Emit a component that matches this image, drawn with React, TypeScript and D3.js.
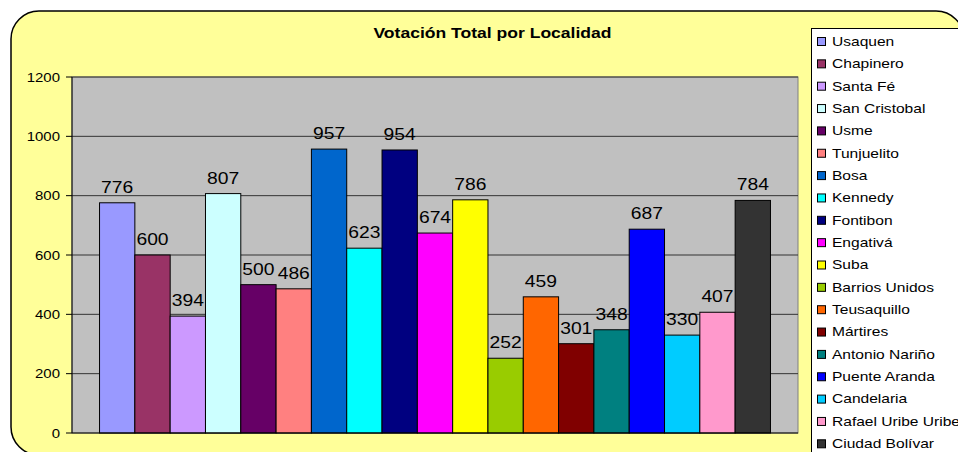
import React from "react";
import * as d3 from "d3";

const localidades = [
  "Usaquen", "Chapinero", "Santa Fé", "San Cristobal", "Usme", "Tunjuelito", "Bosa",
  "Kennedy", "Fontibon", "Engativá", "Suba", "Barrios Unidos", "Teusaquillo", "Mártires",
  "Antonio Nariño", "Puente Aranda", "Candelaria", "Rafael Uribe Uribe", "Ciudad Bolívar",
];
const votos = [776, 600, 394, 807, 500, 486, 957, 623, 954, 674, 786, 252, 459, 301, 348, 687, 330, 407, 784];
const colores = [
  "#9999FF", "#993366", "#CC99FF", "#CCFFFF", "#660066", "#FF8080", "#0066CC",
  "#00FFFF", "#000080", "#FF00FF", "#FFFF00", "#99CC00", "#FF6600", "#800000",
  "#008080", "#0000FF", "#00CCFF", "#FF99CC", "#333333",
];
const yTicks = [0, 200, 400, 600, 800, 1000, 1200];
const titulo = "Votación Total por Localidad";

const W = 958, H = 452;
const plot = { left: 72, right: 798, top: 77, bottom: 433 };
const SX = 1.17;

function T({ x, y, anchor = "start", size, bold = false, children }: any) {
  return (
    <text
      transform={`translate(${x},${y}) scale(${SX},1)`}
      textAnchor={anchor}
      fontSize={size}
      fontWeight={bold ? "bold" : "normal"}
      fill="#000"
    >
      {children}
    </text>
  );
}

export default function App() {
  const y = d3.scaleLinear().domain([0, 1200]).range([plot.bottom, plot.top]);
  const pw = plot.right - plot.left;
  const barW = pw / (localidades.length + 1.56);
  const startX = plot.left + (pw - barW * localidades.length) / 2;
  const x = d3.scaleBand().domain(localidades).range([startX, startX + barW * localidades.length]).padding(0);
  const font = "'Liberation Sans', Arial, sans-serif";
  return (
    <svg width={W} height={H} style={{ position: "absolute", left: 0, top: 0 }} fontFamily={font}>
      <rect x={0} y={0} width={W} height={H} fill="#FFFFFF" />
      <rect x={11} y={11} width={953} height={444} rx={28} ry={28} fill="#FFFF99" stroke="#000" strokeWidth={1.5} />
      <T x={492.5} y={38} anchor="middle" size={15} bold>{titulo}</T>
      <rect x={plot.left} y={plot.top} width={pw} height={plot.bottom - plot.top} fill="#C0C0C0" stroke="#808080" strokeWidth={1} />
      {yTicks.map((t) => (
        <g key={t}>
          {t > 0 && <line x1={plot.left} x2={plot.right} y1={y(t)} y2={y(t)} stroke="#333" strokeWidth={1} />}
          <line x1={plot.left - 6} x2={plot.left} y1={y(t)} y2={y(t)} stroke="#000" strokeWidth={1} />
          <T x={60} y={y(t) + 4.5} anchor="end" size={12.8}>{t}</T>
        </g>
      ))}
      {localidades.map((n, i) => (
        <rect key={n} x={x(n)} y={y(votos[i])} width={x.bandwidth()} height={y(0) - y(votos[i])} fill={colores[i]} stroke="#000" strokeWidth={1} />
      ))}
      {localidades.map((n, i) => (
        <T key={n + "l"} x={(x(n) as number) + x.bandwidth() / 2} y={y(votos[i]) - 10} anchor="middle" size={16.5}>{votos[i]}</T>
      ))}
      <line x1={plot.left} x2={plot.left} y1={plot.top} y2={plot.bottom} stroke="#000" strokeWidth={1} />
      <line x1={plot.left} x2={plot.right} y1={plot.bottom} y2={plot.bottom} stroke="#000" strokeWidth={1} />
      <rect x={811.5} y={28.5} width={160} height={440} fill="#FFFFFF" stroke="#000" strokeWidth={1} />
      {localidades.map((n, i) => {
        const cy = 41 + i * 22.35;
        return (
          <g key={n + "g"}>
            <rect x={817.5} y={cy - 3.5} width={8} height={8} fill={colores[i]} stroke="#000" strokeWidth={1} />
            <T x={832} y={cy + 4.8} size={13.3}>{n}</T>
          </g>
        );
      })}
    </svg>
  );
}
